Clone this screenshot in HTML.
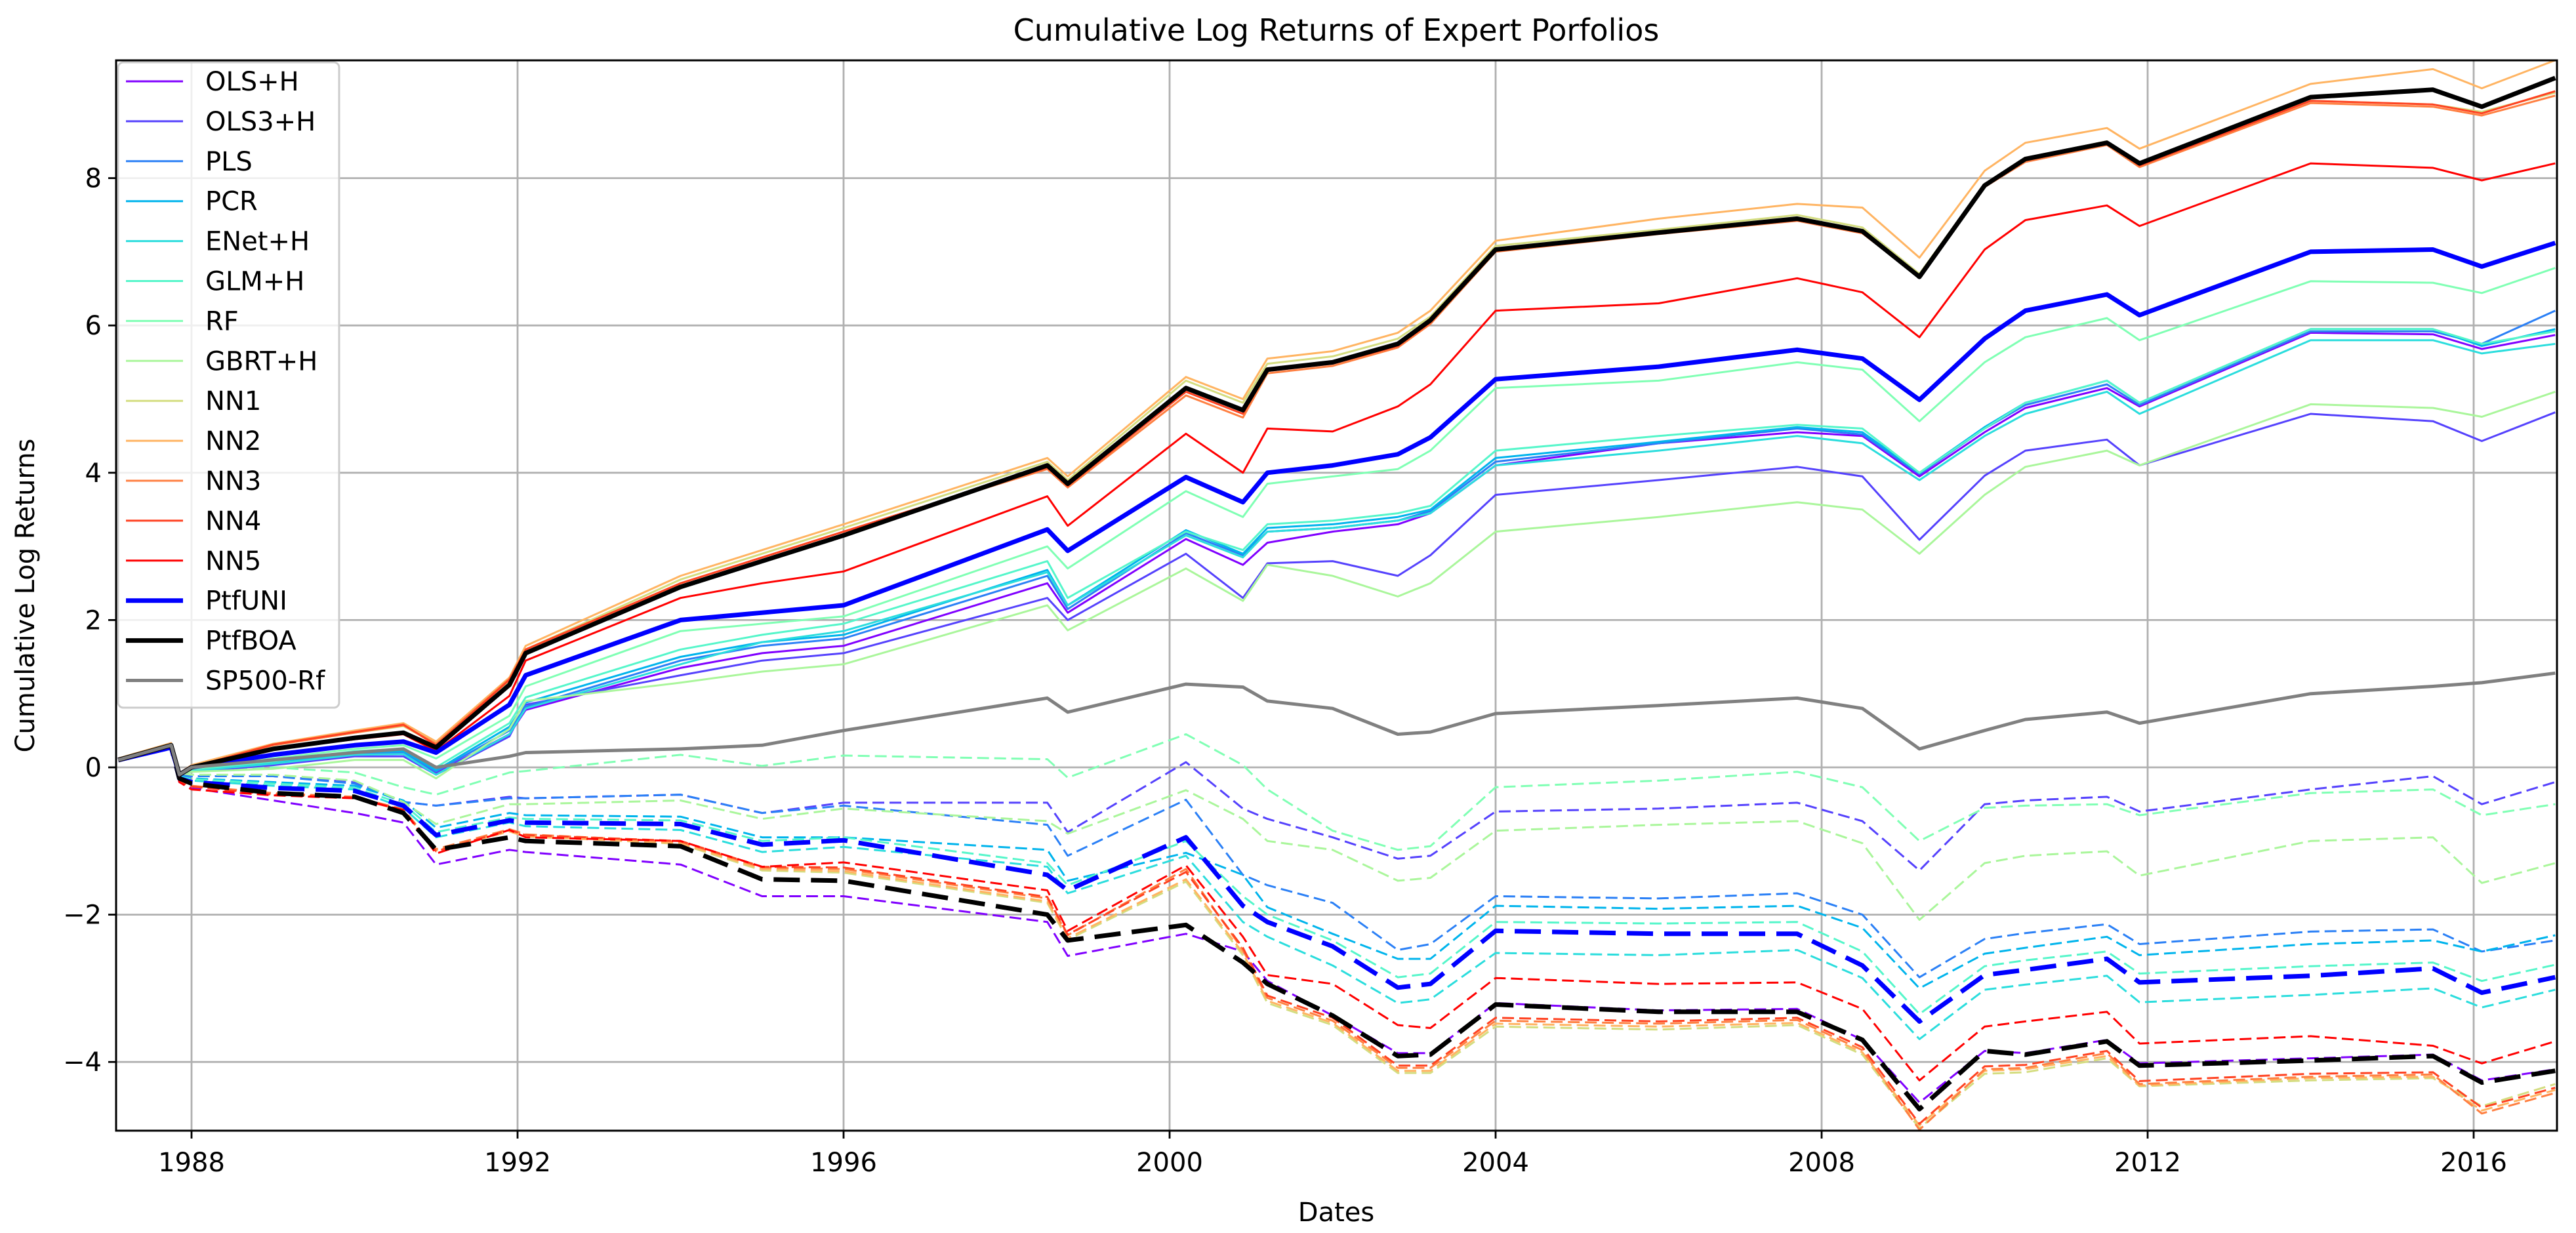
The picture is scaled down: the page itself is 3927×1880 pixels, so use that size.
<!DOCTYPE html>
<html><head><meta charset="utf-8">
<style>
html,body{margin:0;padding:0;background:#fff;}
svg{display:block;font-family:"DejaVu Sans","Liberation Sans",sans-serif;}
</style></head>
<body>
<svg id="chart" width="3927" height="1880" viewBox="0 0 3927 1880" xmlns="http://www.w3.org/2000/svg">
<rect x="0" y="0" width="3927" height="1880" fill="#fff"/>
<text x="2037" y="62" font-size="46" text-anchor="middle">Cumulative Log Returns of Expert Porfolios</text>
<g id="grid"></g>
<g id="series"></g>
<g id="axes"></g>
<text x="2037" y="1862" font-size="40" text-anchor="middle">Dates</text>
<text x="0" y="0" font-size="40" text-anchor="middle" transform="translate(52,908) rotate(-90)">Cumulative Log Returns</text>
<g id="legend"></g>
</svg>
<script>
const dates = [1987.1,1987.75,1987.85,1988.0,1989.0,1990.0,1990.6,1991.0,1991.9,1992.1,1994.0,1995.0,1996.0,1998.5,1998.75,2000.2,2000.9,2001.2,2002.0,2002.8,2003.2,2004.0,2006.0,2007.7,2008.5,2009.2,2010.0,2010.5,2011.5,2011.9,2014.0,2015.5,2016.1,2017.0];
const xTicks = [1988,1992,1996,2000,2004,2008,2012,2016];
const yTicks = [-4,-2,0,2,4,6,8];

// solid series
const olsH   = [0.1,0.26,-0.1,-0.05,0.06,0.2,0.2,-0.08,0.45,0.78,1.35,1.55,1.65,2.5,2.1,3.1,2.75,3.05,3.2,3.3,3.45,4.1,4.4,4.55,4.5,3.95,4.55,4.88,5.15,4.9,5.9,5.88,5.68,5.87];
const ols3H  = [0.1,0.26,-0.1,-0.06,0.03,0.15,0.15,-0.1,0.42,0.85,1.25,1.45,1.55,2.3,2.0,2.9,2.3,2.77,2.8,2.6,2.88,3.7,3.9,4.08,3.95,3.09,3.96,4.3,4.45,4.1,4.8,4.7,4.43,4.82];
const pls    = [0.1,0.26,-0.1,-0.05,0.05,0.18,0.2,-0.06,0.5,0.82,1.45,1.65,1.75,2.6,2.15,3.18,2.88,3.2,3.25,3.35,3.48,4.15,4.4,4.6,4.52,3.98,4.6,4.92,5.2,4.92,5.92,5.92,5.75,6.2];
const pcr    = [0.1,0.26,-0.1,-0.04,0.06,0.2,0.22,-0.04,0.55,0.88,1.5,1.7,1.8,2.68,2.2,3.22,2.9,3.25,3.3,3.4,3.5,4.2,4.42,4.62,4.55,4.0,4.62,4.95,5.25,4.95,5.95,5.95,5.72,5.95];
const enetH  = [0.1,0.26,-0.1,-0.05,0.05,0.17,0.18,-0.1,0.45,0.8,1.4,1.7,1.85,2.65,2.2,3.15,2.85,3.2,3.25,3.35,3.45,4.1,4.3,4.5,4.4,3.9,4.5,4.8,5.1,4.8,5.8,5.8,5.62,5.75];
const glmH   = [0.1,0.26,-0.1,-0.03,0.08,0.22,0.25,0.0,0.6,0.95,1.6,1.8,1.95,2.8,2.3,3.2,2.95,3.3,3.35,3.45,3.55,4.3,4.5,4.65,4.6,4.0,4.6,4.95,5.25,4.95,5.95,5.95,5.75,5.92];
const rf     = [0.1,0.27,-0.1,-0.02,0.12,0.25,0.3,0.12,0.7,1.1,1.85,1.95,2.05,3.0,2.7,3.75,3.4,3.85,3.95,4.05,4.3,5.15,5.25,5.5,5.4,4.7,5.5,5.84,6.1,5.8,6.6,6.58,6.44,6.78];
const gbrtH  = [0.1,0.25,-0.1,-0.06,-0.02,0.1,0.1,-0.15,0.52,0.9,1.15,1.3,1.4,2.2,1.86,2.7,2.26,2.75,2.6,2.32,2.5,3.2,3.4,3.6,3.5,2.9,3.7,4.08,4.3,4.1,4.93,4.88,4.76,5.1];
const nn1    = [0.11,0.32,-0.09,0.02,0.3,0.47,0.56,0.32,1.18,1.6,2.55,2.9,3.25,4.15,3.9,5.25,4.95,5.48,5.58,5.82,6.12,7.08,7.3,7.5,7.33,6.7,7.92,8.27,8.5,8.2,9.05,9.0,8.9,9.16];
const nn2    = [0.12,0.33,-0.08,0.03,0.32,0.5,0.6,0.35,1.22,1.65,2.6,2.95,3.3,4.2,3.95,5.3,5.0,5.55,5.65,5.9,6.2,7.15,7.45,7.65,7.6,6.92,8.1,8.48,8.68,8.4,9.28,9.48,9.22,9.6];
const nn3    = [0.1,0.31,-0.1,0.01,0.3,0.47,0.57,0.32,1.2,1.6,2.5,2.85,3.2,4.05,3.8,5.05,4.75,5.35,5.45,5.7,6.02,7.0,7.24,7.42,7.25,6.66,7.88,8.22,8.45,8.15,9.02,8.97,8.85,9.12];
const nn4    = [0.1,0.3,-0.12,0.0,0.31,0.48,0.58,0.3,1.19,1.6,2.5,2.85,3.2,4.07,3.82,5.1,4.8,5.38,5.48,5.72,6.04,7.01,7.25,7.43,7.26,6.67,7.9,8.24,8.47,8.17,9.05,9.0,8.88,9.18];
const nn5    = [0.1,0.28,-0.12,0.0,0.25,0.38,0.45,0.22,0.97,1.45,2.3,2.5,2.66,3.68,3.28,4.53,4.0,4.6,4.56,4.9,5.2,6.2,6.3,6.64,6.45,5.84,7.03,7.43,7.63,7.35,8.2,8.14,7.97,8.2];
const ptfUNI = [0.1,0.27,-0.1,0.0,0.17,0.3,0.35,0.2,0.85,1.25,2.0,2.1,2.2,3.23,2.94,3.94,3.6,4.0,4.1,4.25,4.48,5.27,5.44,5.67,5.55,4.99,5.82,6.2,6.42,6.14,7.0,7.03,6.8,7.12];
const ptfBOA = [0.1,0.3,-0.1,0.0,0.25,0.4,0.47,0.27,1.12,1.55,2.45,2.8,3.15,4.1,3.85,5.15,4.85,5.4,5.5,5.75,6.07,7.03,7.26,7.45,7.28,6.66,7.9,8.26,8.48,8.2,9.1,9.2,8.97,9.36];
const sp500  = [0.1,0.3,-0.1,0.0,0.1,0.2,0.25,0.0,0.15,0.2,0.25,0.3,0.5,0.94,0.75,1.13,1.09,0.9,0.8,0.45,0.48,0.73,0.84,0.94,0.8,0.25,0.5,0.65,0.75,0.6,1.0,1.1,1.15,1.28];

// dashed series
const dOlsH  = [0.1,0.28,-0.2,-0.28,-0.45,-0.62,-0.75,-1.32,-1.12,-1.15,-1.32,-1.75,-1.75,-2.1,-2.56,-2.26,-2.5,-2.9,-3.37,-3.88,-3.88,-3.2,-3.3,-3.28,-3.7,-4.55,-3.85,-3.88,-3.7,-4.02,-3.95,-3.9,-4.25,-4.1];
const dOls3H = [0.1,0.28,-0.1,-0.12,-0.12,-0.2,-0.47,-0.52,-0.4,-0.42,-0.37,-0.62,-0.48,-0.48,-0.88,0.07,-0.56,-0.7,-0.95,-1.24,-1.2,-0.6,-0.56,-0.48,-0.73,-1.4,-0.5,-0.45,-0.4,-0.6,-0.3,-0.12,-0.5,-0.2];
const dPls   = [0.1,0.28,-0.1,-0.12,-0.12,-0.22,-0.47,-0.52,-0.42,-0.42,-0.37,-0.62,-0.52,-0.78,-1.2,-0.44,-1.46,-1.6,-1.84,-2.48,-2.4,-1.75,-1.78,-1.71,-2.0,-2.85,-2.33,-2.25,-2.13,-2.4,-2.23,-2.2,-2.5,-2.35];
const dPcr   = [0.1,0.28,-0.12,-0.15,-0.2,-0.25,-0.45,-0.82,-0.62,-0.65,-0.67,-0.95,-0.95,-1.12,-1.54,-1.16,-1.46,-1.9,-2.26,-2.6,-2.6,-1.88,-1.92,-1.88,-2.18,-3.0,-2.53,-2.45,-2.3,-2.55,-2.4,-2.35,-2.5,-2.28];
const dEnetH = [0.1,0.28,-0.14,-0.18,-0.25,-0.3,-0.55,-0.95,-0.75,-0.8,-0.85,-1.15,-1.08,-1.35,-1.71,-1.2,-2.1,-2.3,-2.69,-3.2,-3.15,-2.52,-2.55,-2.48,-2.86,-3.69,-3.02,-2.95,-2.83,-3.19,-3.09,-3.0,-3.26,-3.02];
const dGlmH  = [0.1,0.28,-0.13,-0.16,-0.22,-0.28,-0.5,-0.88,-0.68,-0.7,-0.72,-1.0,-0.95,-1.3,-1.6,-1.0,-1.75,-2.0,-2.35,-2.85,-2.8,-2.1,-2.12,-2.1,-2.5,-3.35,-2.7,-2.62,-2.5,-2.8,-2.7,-2.65,-2.9,-2.68];
const dRf    = [0.1,0.28,-0.05,-0.05,0.0,-0.07,-0.27,-0.37,-0.07,-0.05,0.17,0.02,0.16,0.11,-0.14,0.45,0.03,-0.3,-0.86,-1.12,-1.07,-0.27,-0.18,-0.06,-0.27,-1.0,-0.55,-0.52,-0.5,-0.65,-0.35,-0.3,-0.65,-0.5];
const dGbrtH = [0.1,0.28,-0.08,-0.1,-0.1,-0.18,-0.47,-0.77,-0.5,-0.5,-0.45,-0.7,-0.56,-0.73,-0.9,-0.31,-0.7,-1.0,-1.12,-1.54,-1.5,-0.86,-0.78,-0.73,-1.03,-2.07,-1.3,-1.2,-1.14,-1.47,-1.0,-0.95,-1.57,-1.3];
const dNn1   = [0.1,0.28,-0.18,-0.25,-0.36,-0.4,-0.58,-1.12,-0.86,-0.93,-1.04,-1.4,-1.43,-1.84,-2.34,-1.55,-2.55,-3.2,-3.5,-4.15,-4.15,-3.52,-3.56,-3.5,-3.9,-4.9,-4.16,-4.14,-3.95,-4.33,-4.25,-4.22,-4.6,-4.3];
const dNn2   = [0.1,0.28,-0.18,-0.26,-0.36,-0.41,-0.59,-1.13,-0.87,-0.94,-1.03,-1.38,-1.41,-1.82,-2.32,-1.52,-2.52,-3.17,-3.47,-4.12,-4.12,-3.48,-3.52,-3.47,-3.87,-4.86,-4.12,-4.1,-3.92,-4.32,-4.22,-4.2,-4.66,-4.38];
const dNn3   = [0.1,0.28,-0.18,-0.25,-0.35,-0.4,-0.57,-1.11,-0.84,-0.91,-1.01,-1.36,-1.38,-1.78,-2.28,-1.38,-2.48,-3.13,-3.44,-4.08,-4.08,-3.44,-3.48,-3.43,-3.84,-4.92,-4.1,-4.08,-3.88,-4.3,-4.2,-4.17,-4.7,-4.42];
const dNn4   = [0.1,0.28,-0.19,-0.26,-0.37,-0.41,-0.58,-1.14,-0.85,-0.92,-1.0,-1.35,-1.36,-1.76,-2.27,-1.42,-2.45,-3.1,-3.4,-4.05,-4.05,-3.4,-3.45,-3.4,-3.8,-4.84,-4.06,-4.04,-3.85,-4.26,-4.16,-4.14,-4.62,-4.35];
const dNn5   = [0.1,0.28,-0.2,-0.3,-0.38,-0.42,-0.58,-1.17,-0.85,-0.95,-1.0,-1.35,-1.29,-1.67,-2.22,-1.33,-2.3,-2.82,-2.94,-3.5,-3.54,-2.86,-2.94,-2.92,-3.28,-4.25,-3.52,-3.45,-3.32,-3.75,-3.65,-3.78,-4.02,-3.72];
const dPtfUNI= [0.1,0.28,-0.15,-0.2,-0.28,-0.32,-0.52,-0.92,-0.72,-0.75,-0.77,-1.05,-0.99,-1.46,-1.67,-0.95,-1.88,-2.1,-2.43,-2.99,-2.94,-2.22,-2.26,-2.26,-2.69,-3.45,-2.82,-2.75,-2.6,-2.92,-2.83,-2.73,-3.06,-2.85];
const dPtfBOA= [0.1,0.28,-0.15,-0.22,-0.35,-0.4,-0.62,-1.12,-0.95,-1.0,-1.07,-1.52,-1.54,-2.0,-2.35,-2.14,-2.65,-2.94,-3.37,-3.92,-3.9,-3.22,-3.32,-3.32,-3.7,-4.64,-3.85,-3.9,-3.72,-4.05,-3.98,-3.92,-4.28,-4.12];

const NS = "http://www.w3.org/2000/svg";
const L = 177, R = 3898, T = 92, B = 1724;
function xS(t){ return 292 + (t - 1988) * 124.25; }
function yS(v){ return 1170 - v * 112.3; }
function mk(tag, attrs, parent){
  const e = document.createElementNS(NS, tag);
  for (const k in attrs) e.setAttribute(k, attrs[k]);
  parent.appendChild(e);
  return e;
}
const grid = document.getElementById('grid');
const axes = document.getElementById('axes');
const seriesG = document.getElementById('series');

// clip
const defs = mk('defs', {}, document.getElementById('chart'));
const cp = mk('clipPath', {id:'plotclip'}, defs);
mk('rect', {x:L, y:T, width:R-L, height:B-T}, cp);
seriesG.setAttribute('clip-path', 'url(#plotclip)');

xTicks.forEach(t => {
  const x = xS(t);
  const g = mk('line', {x1:x, x2:x, y1:T, y2:B, stroke:'#b0b0b0', 'stroke-width':2.8}, grid);
  
  
  const tk = mk('line', {x1:x, x2:x, y1:B, y2:B+12, stroke:'#000', 'stroke-width':2.8}, axes);
  
  
  const lb = mk('text', {x:x, y:B+62, 'font-size':40, 'text-anchor':'middle'}, axes);
  lb.textContent = t;
  
  
});
yTicks.forEach(v => {
  const y = yS(v);
  const g = mk('line', {x1:L, x2:R, y1:y, y2:y, stroke:'#b0b0b0', 'stroke-width':2.8}, grid);
  
  
  const tk = mk('line', {x1:L-12, x2:L, y1:y, y2:y, stroke:'#000', 'stroke-width':2.8}, axes);
  
  
  const lb = mk('text', {x:L-22, y:y+14, 'font-size':40, 'text-anchor':'end'}, axes);
  lb.textContent = v < 0 ? '\u2212' + Math.abs(v) : String(v);
  
  
});
const frame = mk('rect', {x:L, y:T, width:R-L, height:B-T, fill:'none', stroke:'#000', 'stroke-width':3}, axes);



function pathD(vals){
  return vals.map((v,i) => (i ? 'L' : 'M') + xS(dates[i]).toFixed(1) + ',' + yS(v).toFixed(1)).join(' ');
}
function drawLine(vals, color, w, dash, name){
  const p = mk('path', {d:pathD(vals), fill:'none', stroke:color, 'stroke-width':w, 'stroke-linejoin':'round'}, seriesG);
  if (dash) p.setAttribute('stroke-dasharray', dash);
  
  
}

const thinDash = '18 8', thickDash = '40 17';
// dashed lines
drawLine(dOlsH,  '#8000ff', 3, thinDash, 'dashed-line-ols-h');
drawLine(dOls3H, '#5542fd', 3, thinDash, 'dashed-line-ols3-h');
drawLine(dPls,   '#2b80f6', 3, thinDash, 'dashed-line-pls');
drawLine(dPcr,   '#00b4ec', 3, thinDash, 'dashed-line-pcr');
drawLine(dEnetH, '#2bdddd', 3, thinDash, 'dashed-line-enet-h');
drawLine(dGlmH,  '#55f6ca', 3, thinDash, 'dashed-line-glm-h');
drawLine(dRf,    '#80ffb4', 3, thinDash, 'dashed-line-rf');
drawLine(dGbrtH, '#aaf69b', 3, thinDash, 'dashed-line-gbrt-h');
drawLine(dNn1,   '#d4dd80', 3, thinDash, 'dashed-line-nn1');
drawLine(dNn2,   '#ffb462', 3, thinDash, 'dashed-line-nn2');
drawLine(dNn3,   '#ff8042', 3, thinDash, 'dashed-line-nn3');
drawLine(dNn4,   '#ff4221', 3, thinDash, 'dashed-line-nn4');
drawLine(dNn5,   '#ff0000', 3, thinDash, 'dashed-line-nn5');
drawLine(dPtfUNI,'#0000ff', 7, thickDash, 'dashed-line-ptf-uni');
drawLine(dPtfBOA,'#000000', 7, thickDash, 'dashed-line-ptf-boa');

// solid lines
const legendItems = [
  ['OLS+H', olsH, '#8000ff', 3],
  ['OLS3+H', ols3H, '#5542fd', 3],
  ['PLS', pls, '#2b80f6', 3],
  ['PCR', pcr, '#00b4ec', 3],
  ['ENet+H', enetH, '#2bdddd', 3],
  ['GLM+H', glmH, '#55f6ca', 3],
  ['RF', rf, '#80ffb4', 3],
  ['GBRT+H', gbrtH, '#aaf69b', 3],
  ['NN1', nn1, '#d4dd80', 3],
  ['NN2', nn2, '#ffb462', 3],
  ['NN3', nn3, '#ff8042', 3],
  ['NN4', nn4, '#ff4221', 3],
  ['NN5', nn5, '#ff0000', 3],
  ['PtfUNI', ptfUNI, '#0000ff', 7],
  ['PtfBOA', ptfBOA, '#000000', 7],
  ['SP500-Rf', sp500, '#808080', 5]
];
legendItems.forEach(it => {
  drawLine(it[1], it[2], it[3], null, 'line-' + it[0].toLowerCase().replace(/[^a-z0-9]+/g,'-'));
});

// legend
const lg = document.getElementById('legend');


mk('rect', {x:180, y:95, width:337, height:984, rx:8, fill:'#fff', 'fill-opacity':0.8, stroke:'#cccccc', 'stroke-width':3}, lg);
legendItems.forEach((it, i) => {
  const y = 124 + i * 60.9;
  const g = mk('g', {}, lg);
  
  
  mk('line', {x1:192, x2:279, y1:y, y2:y, stroke:it[2], 'stroke-width':it[3]}, g);
  const t = mk('text', {x:313, y:y+14, 'font-size':40}, g);
  t.textContent = it[0];
});
</script>
</body></html>
